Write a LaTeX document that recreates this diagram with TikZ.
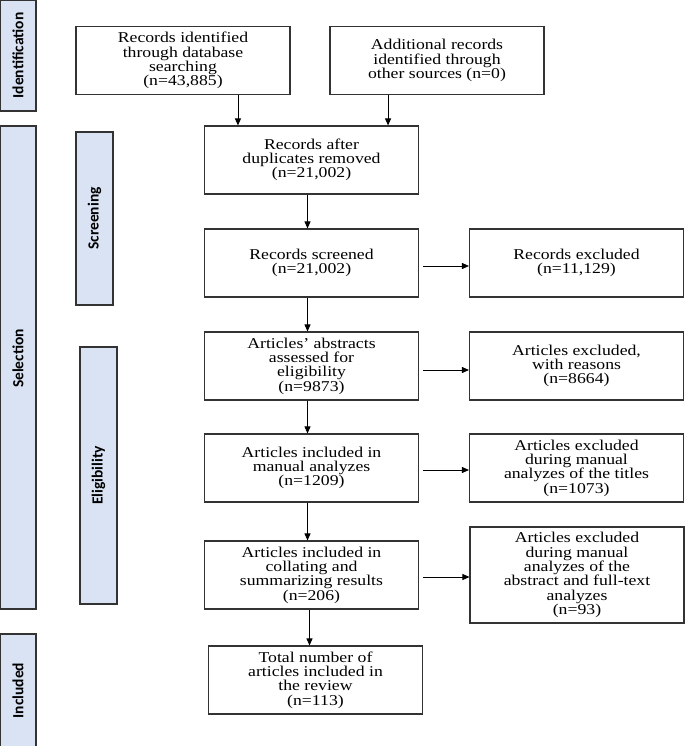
\documentclass[tikz,border=0pt]{standalone}
\usepackage{fontspec}
\setmainfont[FakeStretch=1.18]{Liberation Serif}
\newfontfamily\barfont{Carlito}
\usetikzlibrary{arrows.meta}
\definecolor{barfill}{HTML}{DAE3F3}
\definecolor{edge}{HTML}{333333}
\begin{document}
\begin{tikzpicture}[x=1pt,y=-1pt,
  box/.style={draw=edge, line width=1.1pt, align=center, inner sep=0pt,
    minimum width=214pt, minimum height=68pt,
    font=\fontsize{15}{14.3}\selectfont},
  bar/.style={draw=edge, fill=barfill, line width=1.4pt, inner sep=0pt, rotate=90,
    font=\barfont\bfseries\fontsize{15.5}{15.5}\selectfont},
  arr/.style={-{Triangle[length=7pt,width=6pt]}, line width=0.8pt, draw=black}]
\useasboundingbox (0,0) rectangle (685,746);

% side bars
\node[bar, minimum width=111pt, minimum height=36pt] (bid) at (18,55.5) {Identification};
\node[bar, minimum width=483pt, minimum height=36pt] (bsel) at (18,367.5) {\hspace*{18pt}Selection};
\node[bar, minimum width=113pt, minimum height=36pt] (binc) at (18,690.5) {Included};
\node[bar, minimum width=173pt, minimum height=37pt] (bscr) at (94.5,218.5) {Screening};
\node[bar, minimum width=257pt, minimum height=37pt] (belig) at (98.5,475.5) {Eligibility};

% main boxes
\node[box] (b1) at (183,60.5) {Records identified\\through database\\searching\\(n=43,885)};
\node[box] (b2) at (437,60.5) {Additional records\\identified through\\other sources (n=0)};
\node[box] (b3) at (311.5,160) {Records after\\duplicates removed\\(n=21,002)};
\node[box] (b4) at (311.5,263) {Records screened\\(n=21,002)};
\node[box] (e1) at (576.5,263) {Records excluded\\(n=11,129)};
\node[box] (b5) at (311.5,366) {Articles' abstracts\\assessed for\\eligibility\\(n=9873)};
\node[box] (e2) at (576.5,366) {Articles excluded,\\with reasons\\(n=8664)};
\node[box] (b6) at (311.5,468) {Articles included in\\manual analyzes\\(n=1209)};
\node[box] (e3) at (576.5,468) {Articles excluded\\during manual\\analyzes of the titles\\(n=1073)};
\node[box] (b7) at (311.5,575) {Articles included in\\collating and\\summarizing results\\(n=206)};
\node[box, minimum height=96pt] (e4) at (577,575) {Articles excluded\\during manual\\analyzes of the\\abstract and full-text\\analyzes\\(n=93)};
\node[box] (b8) at (315.5,680) {Total number of\\articles included in\\the review\\(n=113)};

% connectors
\draw[arr] ([xshift=34pt]b3.north west |- b1.south) -- ([xshift=34pt]b3.north west);
\draw[arr] ([xshift=-31pt]b3.north east |- b2.south) -- ([xshift=-31pt]b3.north east);
\draw[arr] ([xshift=-4pt]b3.south) -- ([xshift=-4pt]b4.north);
\draw[arr] ([xshift=-4pt]b4.south) -- ([xshift=-4pt]b5.north);
\draw[arr] ([xshift=-4pt]b5.south) -- ([xshift=-4pt]b6.north);
\draw[arr] ([xshift=-4pt]b6.south) -- ([xshift=-4pt]b7.north);
\draw[arr] ([xshift=-2pt]b7.south) -- ([xshift=-6pt]b8.north);
\draw[arr] ([xshift=4pt,yshift=-3pt]b4.east) -- ([yshift=-3pt]e1.west);
\draw[arr] ([xshift=4pt,yshift=-4pt]b5.east) -- ([yshift=-4pt]e2.west);
\draw[arr] ([xshift=4pt,yshift=-2pt]b6.east) -- ([yshift=-2pt]e3.west);
\draw[arr] ([xshift=4pt,yshift=-2pt]b7.east) -- ([yshift=-2pt]e4.west);
\end{tikzpicture}
\end{document}
